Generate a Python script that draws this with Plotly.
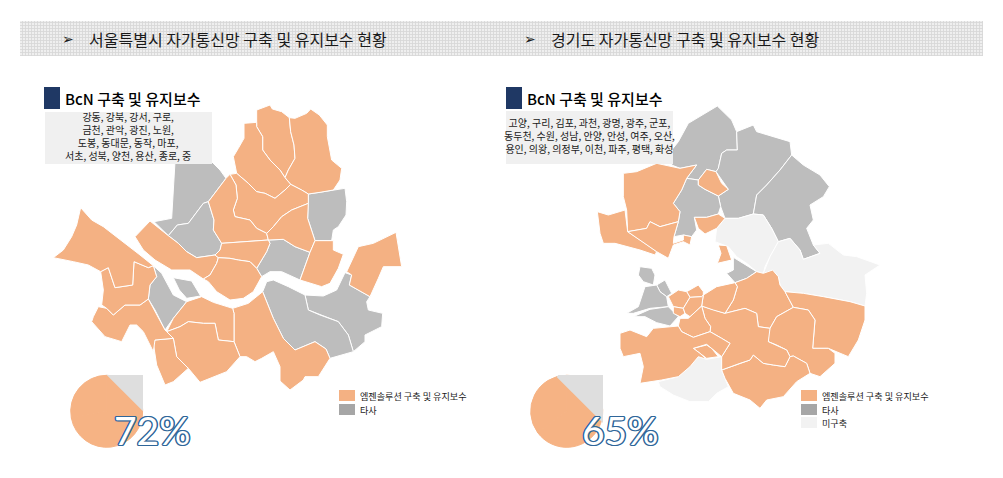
import plotly.graph_objects as go

# outlines, in map units (3 units = 1 screen px)
dobong = [(650,45),(672,38),(690,30),(697,42),(725,50),(748,68),(752,110),(762,150),(765,190),(745,225),(735,248),(720,225),(690,195),(668,165),(668,125),(650,95)]
nowon = [(765,70),(800,55),(812,42),(838,60),(862,90),(862,125),(875,195),(905,220),(900,255),(880,285),(840,292),(805,297),(785,285),(752,268),(735,248),(745,225),(765,190),(762,150),(752,110),(748,68)]
gangbuk = [(612,85),(650,82),(650,95),(668,125),(668,165),(690,195),(720,225),(735,248),(752,268),(735,285),(705,310),(675,295),(650,290),(625,265),(590,235),(580,185),(595,160),(612,130)]
seongbuk = [(570,238),(590,235),(625,265),(650,290),(675,295),(705,310),(735,285),(752,268),(785,285),(805,297),(805,325),(755,345),(725,365),(700,395),(680,415),(650,400),(630,375),(585,365),(580,345),(592,310),(588,270)]
jongno = [(570,238),(588,270),(592,310),(580,345),(585,365),(630,375),(650,400),(680,415),(685,435),(620,440),(545,445),(520,405),(522,375),(505,320),(558,250)]
dongdaemun = [(805,325),(803,370),(825,437),(810,472),(765,455),(730,433),(685,435),(680,415),(700,395),(725,365),(755,345)]
jungnang = [(805,297),(840,292),(880,285),(915,280),(920,320),(918,360),(895,395),(880,405),(875,437),(825,437),(803,370),(805,325)]
eunpyeong = [(405,200),(515,200),(540,225),(558,250),(505,320),(490,325),(445,385),(412,390),(385,422),(342,380),(395,370),(400,290)]
seodaemun = [(505,320),(522,375),(520,405),(545,445),(540,465),(525,480),(470,488),(440,470),(415,445),(385,422),(412,390),(445,385),(490,325)]
mapo = [(285,425),(330,378),(385,422),(415,445),(440,470),(470,488),(525,480),(535,488),(530,505),(510,540),(490,552),(450,525),(395,525),(345,495),(310,465)]
jung = [(545,445),(620,440),(685,435),(690,445),(680,470),(650,520),(630,500),(595,495),(570,490),(535,488),(525,480),(540,465)]
yongsan = [(535,488),(570,490),(595,495),(630,500),(650,520),(665,545),(640,590),(610,610),(570,615),(530,590),(505,560),(490,552),(510,540),(530,505)]
seongdong = [(685,435),(730,433),(765,455),(810,472),(780,555),(725,530),(690,530),(665,545),(650,520),(680,470),(690,445)]
gwangjin = [(825,437),(880,437),(880,465),(910,478),(895,520),(870,565),(845,575),(780,555),(810,472)]
gangdong = [(920,530),(945,480),(955,455),(1000,445),(1030,430),(1068,412),(1085,515),(1030,515),(1015,550),(990,605),(928,570),(935,540)]
songpa = [(915,533),(935,540),(928,570),(990,605),(980,620),(985,645),(1028,655),(1025,695),(975,720),(975,740),(940,770),(925,720),(895,680),(840,660),(805,645),(795,600),(850,603),(890,585)]
gangnam = [(668,590),(680,560),(700,555),(745,575),(795,600),(805,645),(840,660),(895,680),(925,720),(940,770),(870,790),(858,762),(825,740),(765,765),(730,730),(700,670)]
seocho = [(668,590),(700,670),(730,730),(765,765),(825,740),(858,762),(870,790),(835,845),(795,845),(790,855),(750,885),(720,858),(720,815),(700,770),(665,790),(645,800),(620,785),(600,785),(582,740),(582,655),(578,640),(625,625)]
dongjak = [(440,620),(485,605),(520,622),(578,640),(582,655),(582,740),(535,735),(525,685),(490,685),(445,680),(420,695),(380,710),(400,670)]
gwanak = [(380,710),(420,695),(445,680),(490,685),(525,685),(535,735),(582,740),(600,785),(560,830),(480,862),(445,820),(410,785),(400,730)]
geumcheon = [(345,735),(400,730),(410,785),(445,820),(400,860),(375,870),(350,810),(340,745)]
yeongdeungpo = [(340,512),(365,535),(400,600),(440,620),(400,670),(375,705),(345,645),(325,612),(330,570),(350,545)]
yeouido = [(400,548),(455,558),(482,603),(440,610),(418,585)]
guro = [(160,665),(175,635),(200,640),(220,660),(255,630),(300,630),(325,612),(345,650),(375,705),(380,710),(400,730),(345,735),(340,770),(310,710),(290,690),(270,690),(245,740),(195,725),(155,680)]
yangcheon = [(185,630),(190,585),(182,530),(205,518),(225,578),(278,570),(282,500),(325,518),(340,512),(350,545),(330,570),(325,612),(300,630),(255,630),(220,660),(200,640)]
gangseo = [(40,488),(70,465),(95,425),(110,390),(122,338),(155,375),(190,395),(250,440),(300,480),(340,512),(325,518),(282,500),(278,570),(225,578),(205,518),(182,530),(145,510),(100,500),(75,495)]

seoul_orange = [dobong, nowon, gangbuk, seongbuk, jongno, dongdaemun, mapo, jung, yongsan, gwangjin, gangdong, seocho, dongjak, gwanak, geumcheon, guro, yangcheon, gangseo]
seoul_gray = [jungnang, eunpyeong, seodaemun, seongdong, songpa, gangnam, yeongdeungpo, yeouido]

paju = [(100,220),(140,215),(200,190),(270,205),(320,195),(290,235),(275,270),(250,310),(270,335),(265,365),(210,380),(180,365),(170,385),(113,395),(110,330),(100,290)]
gimpo = [(22,335),(55,345),(105,330),(113,395),(165,430),(200,455),(195,465),(150,450),(75,430),(40,430),(30,400)]
goyang = [(113,395),(170,385),(180,365),(210,380),(265,365),(252,410),(250,430),(280,420),(280,405),(305,410),(300,435),(280,425),(250,435),(235,475),(200,455),(165,430)]
yeoncheon = [(245,150),(265,125),(295,70),(355,35),(382,18),(425,60),(440,95),(442,150),(410,150),(395,160),(385,205),(378,215),(350,208),(325,240),(290,235),(320,195),(270,205),(245,195)]
pocheon = [(440,95),(490,75),(500,95),(600,125),(605,165),(570,210),(530,255),(500,285),(490,342),(445,355),(405,355),(392,320),(385,288),(415,268),(378,215),(385,205),(395,160),(410,150),(442,150)]
gapyeong = [(605,165),(640,195),(690,225),(718,260),(700,290),(660,315),(670,360),(650,385),(670,435),(690,460),(640,478),(630,450),(600,415),(565,425),(545,385),(520,345),(490,342),(500,285),(530,255),(570,210)]
yangju = [(325,240),(350,208),(378,215),(395,250),(415,268),(385,288),(345,268),(325,255)]
uijeongbu = [(290,235),(325,240),(325,255),(345,268),(385,288),(392,320),(385,342),(350,352),(313,352),(320,390),(305,410),(280,405),(252,410),(265,365),(270,335),(250,310),(275,270)]
guri = [(313,352),(350,352),(385,342),(405,355),(380,385),(345,402),(325,385)]
namyangju = [(405,355),(445,355),(490,342),(520,345),(545,385),(565,425),(540,470),(525,500),(520,520),(500,515),(470,490),(440,470),(415,440),(375,425),(380,385)]
gwacheon = [(385,435),(410,437),(425,480),(382,490),(393,460)]
yangpyeong = [(565,425),(600,415),(630,450),(640,478),(690,460),(670,435),(715,430),(760,465),(800,470),(870,495),(825,525),(830,580),(825,618),(780,605),(700,590),(640,580),(585,575),(570,555),(565,530),(520,520),(540,470)]
hanam = [(430,472),(500,515),(470,535),(435,548),(410,520),(430,510)]
gwangju = [(435,548),(470,535),(500,515),(520,520),(548,510),(565,530),(570,555),(585,575),(610,622),(560,650),(540,685),(505,680),(500,640),(465,625),(405,640),(430,600),(442,560)]
yeoju = [(585,575),(640,580),(700,590),(780,605),(825,618),(825,660),(805,720),(775,770),(715,745),(668,745),(675,660),(655,630),(610,622)]
icheon = [(540,685),(560,650),(610,622),(655,630),(675,660),(668,745),(715,745),(735,760),(735,790),(690,830),(660,820),(650,790),(610,768),(600,770),(590,750),(560,735),(535,725),(535,700)]
anseong = [(395,810),(450,790),(480,780),(490,765),(520,790),(550,795),(585,800),(600,770),(610,768),(650,790),(660,820),(620,845),(580,890),(530,900),(510,925),(480,900),(430,880),(405,835)]
yongin = [(335,618),(370,630),(405,640),(465,625),(500,640),(505,680),(540,685),(535,725),(590,750),(600,770),(585,800),(550,795),(520,790),(490,765),(480,780),(450,790),(395,810),(395,770),(420,730),(395,715),(360,695),(362,680),(345,655)]
seongnam = [(340,585),(380,560),(435,548),(442,560),(430,600),(405,640),(370,630),(335,618)]
gwangmyeong = [(290,575),(325,555),(340,575),(340,585),(335,590),(300,592)]
anyang = [(235,590),(265,570),(290,575),(300,592),(280,625),(250,620)]
gunpo = [(250,620),(280,625),(285,640),(270,650),(250,640)]
uiwang = [(300,592),(335,590),(340,585),(335,618),(300,650),(285,640),(280,625)]
suwon = [(265,678),(270,655),(295,655),(335,618),(345,655),(362,680),(360,695),(310,712),(275,695)]
osan = [(310,745),(350,735),(365,745),(385,770),(350,775),(330,760)]
hwaseong = [(90,700),(120,690),(170,710),(190,685),(265,678),(275,695),(310,712),(360,695),(395,715),(420,730),(395,770),(365,745),(350,733),(310,745),(330,760),(350,778),(325,770),(300,800),(265,830),(215,840),(150,850),(160,800),(150,760),(100,770),(90,745)]
pyeongtaek = [(205,845),(265,830),(300,800),(325,770),(350,778),(385,770),(395,770),(395,810),(405,835),(415,860),(380,880),(355,905),(300,905),(250,885),(210,860)]
west_a = [(150,500),(185,505),(195,525),(190,555),(160,545),(145,525)]
west_b = [(200,555),(225,540),(245,580),(230,590),(210,575)]
west_c = [(165,560),(200,555),(210,575),(230,590),(235,620),(180,625),(130,640),(110,640),(145,620)]
west_d = [(130,650),(180,628),(235,620),(265,650),(240,678),(200,668),(165,650)]

gg_orange = [paju, gimpo, goyang, yangju, guri, gwacheon, gwangju, yeoju, icheon, anseong, yongin, seongnam, gwangmyeong, anyang, gunpo, uiwang, suwon, osan, hwaseong]
gg_gray = [yeoncheon, pocheon, gapyeong, uijeongbu, hanam, west_a, west_b, west_c, west_d]
gg_light = [namyangju, yangpyeong, pyeongtaek]

pie_seoul = [72, 28]
pie_gg = [65, 35]

headers = ["서울특별시 자가통신망 구축 및 유지보수 현황", "경기도 자가통신망 구축 및 유지보수 현황"]
section = "BcN 구축 및 유지보수"
seoul_list = ["강동, 강북, 강서, 구로,", "금천, 관악, 광진, 노원,", "도봉, 동대문, 동작, 마포,", "서초, 성북, 양천, 용산, 종로, 중"]
gg_list = ["고양, 구리, 김포, 과천, 광명, 광주, 군포,", "동두천, 수원, 성남, 안양, 안성, 여주, 오산,", "용인, 의왕, 의정부, 이천, 파주, 평택, 화성"]
legend_names = ["엠젠솔루션 구축 및 유지보수", "타사", "미구축"]

ORANGE = "#f4b183"
GRAY = "#bdbdbd"
LIGHT = "#f2f2f2"
KR = "Noto Sans CJK KR"


def add_regions(fig, regions, color, ox, oy):
    for reg in regions:
        xs = [ox + p[0] / 3 for p in reg] + [ox + reg[0][0] / 3]
        ys = [oy + p[1] / 3 for p in reg] + [oy + reg[0][1] / 3]
        fig.add_trace(go.Scatter(x=xs, y=ys, mode="lines", fill="toself", fillcolor=color,
                                 line=dict(color="white", width=1), hoverinfo="skip", showlegend=False))


def text(fig, x, y, s, size, color="#1a1a1a", anchor="left", family=KR, **kw):
    fig.add_annotation(x=x, y=y, text=s, showarrow=False, xanchor=anchor, yanchor="middle",
                       font=dict(family=family, size=size, color=color, **kw))


def rect(fig, x0, y0, x1, y1, color):
    fig.add_shape(type="rect", x0=x0, y0=y0, x1=x1, y1=y1, fillcolor=color, line_width=0, layer="above")


fig = go.Figure()

# patterned header band
fig.add_trace(go.Bar(x=[963], base=[20], y=[38.5], width=[35], orientation="h", hoverinfo="skip", showlegend=False,
                     marker=dict(color="#efefef", line_width=0,
                                 pattern=dict(shape="+", size=3, solidity=0.45, fgcolor="#bdbdbd", bgcolor="#efefef"))))

add_regions(fig, seoul_gray, GRAY, 40, 95)
add_regions(fig, seoul_orange, ORANGE, 40, 95)
add_regions(fig, gg_gray, GRAY, 590, 100)
add_regions(fig, gg_light, LIGHT, 590, 100)
add_regions(fig, gg_orange, ORANGE, 590, 100)

# pies
for vals, cx in [(pie_seoul, 106.7), (pie_gg, 566.7)]:
    fig.add_trace(go.Pie(values=vals, sort=False, textinfo="none", hoverinfo="skip", showlegend=False,
                         marker=dict(colors=["#f6b384", "#f6b384"], line=dict(color="#f6b384", width=1)),
                         domain=dict(x=[(cx - 36) / 1003, (cx + 36) / 1003],
                                     y=[1 - 447.3 / 478, 1 - 375.3 / 478])))
fig.add_shape(type="path", path="M 106.7 375 L 143 375 L 143 411.3 Z", fillcolor="#dedede", line_width=0, layer="above")
fig.add_shape(type="path", path="M 556.7 377 L 558.3 375 L 603 375 L 603 423 L 593 413.3 Z", fillcolor="#dedede", line_width=0, layer="above")

# list boxes and section markers
rect(fig, 45, 112, 212, 164, "#f0f0f0")
rect(fig, 506, 111, 673, 164, "#f0f0f0")
rect(fig, 44, 87, 60, 109, "#1f3864")
rect(fig, 506, 87, 522, 109, "#1f3864")

# headers
text(fig, 60, 39, "➢", 14, family="DejaVu Sans")
text(fig, 87, 39, headers[0], 16)
text(fig, 522, 39, "➢", 14, family="DejaVu Sans")
text(fig, 549, 39, headers[1], 16)
text(fig, 63, 98, section, 15, color="#000000", weight=500)
text(fig, 525, 98, section, 15, color="#000000", weight=500)

text(fig, 128, 136, "<br>".join(seoul_list), 10, anchor="center")
text(fig, 589, 135, "<br>".join(gg_list), 10, anchor="center")

# legends
for i, y in enumerate([390, 404]):
    rect(fig, 339, y, 355, y + 11, [ORANGE, "#a6a6a6"][i])
    text(fig, 358, y + 6, legend_names[i], 9.1)
for i, y in enumerate([390, 404, 417]):
    rect(fig, 801, y, 817, y + 11, [ORANGE, "#a6a6a6", LIGHT][i])
    text(fig, 820, y + 6, legend_names[i], 9.1)

# outlined percentages
outline = "1.4px 0 #2f6699, -1.4px 0 #2f6699, 0 1.4px #2f6699, 0 -1.4px #2f6699, 1px 1px #2f6699, -1px -1px #2f6699, 1px -1px #2f6699, -1px 1px #2f6699"
text(fig, 152.5, 430, f"{pie_seoul[0]}%", 39, color="white", anchor="center", family="Lato", shadow=outline)
text(fig, 620, 430, f"{pie_gg[0]}%", 39, color="white", anchor="center", family="Lato", shadow=outline)

fig.update_layout(width=1003, height=478, margin=dict(l=0, r=0, t=0, b=0), autosize=False,
                  paper_bgcolor="white", plot_bgcolor="white",
                  xaxis=dict(range=[0, 1003], visible=False, fixedrange=True),
                  yaxis=dict(range=[478, 0], visible=False, fixedrange=True))

fig.write_html("out.html", config=dict(displayModeBar=False), post_script="document.body.style.margin='0';")
